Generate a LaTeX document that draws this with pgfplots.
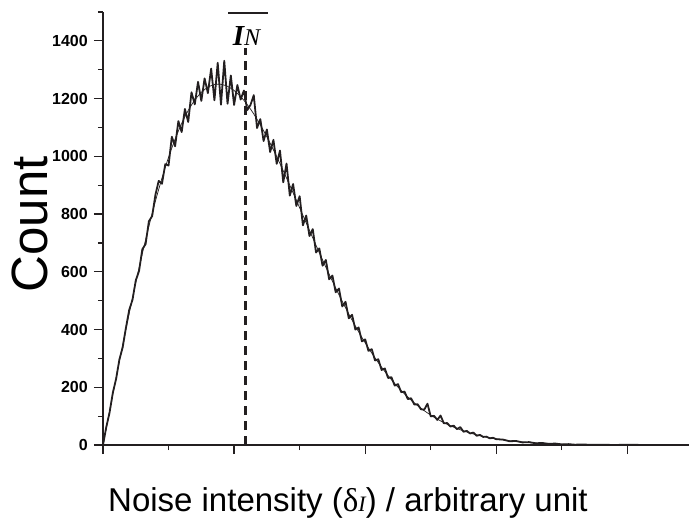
\documentclass[border=0pt]{standalone}
\usepackage{fontspec}
\setmainfont{Liberation Sans}
\newfontfamily\serif{Liberation Serif}
\usepackage{pgfplots}
\pgfplotsset{compat=1.18}
\definecolor{ink}{HTML}{231F20}
\begin{document}
\begin{tikzpicture}
\useasboundingbox (-103pt,-83pt) rectangle (586pt,445pt);
\begin{axis}[
  at={(0pt,0pt)}, anchor=south west,
  scale only axis, width=586pt, height=433pt,
  xmin=0, xmax=4.47, ymin=0, ymax=1500,
  axis x line=bottom, axis y line=left,
  axis line style={-, line width=1.3pt, ink},
  tick style={line width=1.2pt, ink},
  tick align=outside,
  major tick length=9pt, minor tick length=5pt,
  xtick={0,1,2,3,4}, minor xtick={0.5,1.5,2.5,3.5}, xticklabels={},
  ytick={0,200,...,1400}, minor ytick={100,300,500,700,900,1100,1300,1500},
  /pgf/number format/1000 sep={},
  /pgf/number format/assume math mode=true,
  yticklabel style={font=\fontsize{16}{16}\selectfont\bfseries, anchor=east, inner sep=0pt, xshift=-6pt},
  clip=false,
]
% noisy histogram
\addplot[ink, line width=1.8pt, line join=round] coordinates {
(0.000,0) (0.025,62) (0.050,112) (0.075,181) (0.100,229) (0.125,296) (0.150,338) (0.175,406)
(0.200,468) (0.225,503) (0.250,570) (0.275,603) (0.300,678) (0.325,696) (0.350,775) (0.375,793)
(0.400,867) (0.425,915) (0.450,905) (0.475,973) (0.500,968) (0.525,1068) (0.550,1035) (0.575,1122)
(0.600,1084) (0.625,1164) (0.650,1119) (0.675,1222) (0.700,1180) (0.725,1258) (0.750,1192) (0.775,1270)
(0.800,1219) (0.825,1304) (0.850,1194) (0.875,1324) (0.900,1179) (0.925,1331) (0.950,1182) (0.975,1280)
(1.000,1178) (1.025,1247) (1.050,1197) (1.075,1228) (1.100,1160) (1.125,1178) (1.150,1212) (1.175,1098)
(1.200,1129) (1.225,1053) (1.250,1093) (1.275,1015) (1.300,1057) (1.325,974) (1.350,1020) (1.375,910)
(1.400,975) (1.425,864) (1.450,904) (1.475,828) (1.500,862) (1.525,761) (1.550,795) (1.575,724)
(1.600,748) (1.625,667) (1.650,681) (1.675,621) (1.700,641) (1.725,574) (1.750,587) (1.775,529)
(1.800,542) (1.825,480) (1.850,496) (1.875,439) (1.900,451) (1.925,400) (1.950,407) (1.975,359)
(2.000,366) (2.025,326) (2.050,332) (2.075,293) (2.100,297) (2.125,260) (2.150,265) (2.175,232)
(2.200,235) (2.225,206) (2.250,211) (2.275,183) (2.300,185) (2.325,159) (2.350,162) (2.375,140)
(2.400,141) (2.425,124) (2.450,122) (2.475,143) (2.500,99) (2.525,101) (2.550,87) (2.575,102)
(2.600,75) (2.625,76) (2.650,64) (2.675,67) (2.700,55) (2.725,62) (2.750,46) (2.775,49)
(2.800,40) (2.825,43) (2.850,32) (2.875,35) (2.900,28) (2.925,29) (2.950,23) (2.975,25)
(3.00,20) (3.05,19) (3.10,13) (3.15,14) (3.20,9) (3.25,10) (3.30,6) (3.35,7)
(3.40,4) (3.45,5) (3.50,2) (3.55,3) (3.60,1) (3.65,2) (3.70,1) (3.80,1) (3.90,0) (4.00,1) (4.13,0)
};
% smooth fit
\addplot[ink, line width=0.7pt, smooth] coordinates {
(0,0) (0.05,116.9) (0.10,232.7) (0.15,346.2) (0.20,456.5) (0.25,562.3) (0.30,662.9) (0.35,757.4)
(0.40,844.9) (0.45,924.7) (0.50,996.5) (0.55,1059.6) (0.60,1113.8) (0.65,1158.9) (0.70,1194.8)
(0.75,1221.6) (0.80,1239.4) (0.85,1248.5) (0.90,1249.4) (0.95,1242.4) (1.00,1228.0) (1.05,1206.8)
(1.10,1179.5) (1.15,1146.7) (1.20,1109.1) (1.25,1067.5) (1.30,1022.4) (1.35,974.7) (1.40,924.9)
(1.45,873.8) (1.50,821.7) (1.55,769.6) (1.60,717.5) (1.65,666.3) (1.70,616.0) (1.75,567.4)
(1.80,520.4) (1.85,475.5) (1.90,432.6) (1.95,392.1) (2.00,353.9) (2.05,318.4) (2.10,285.3)
(2.15,254.6) (2.20,226.4) (2.25,200.5) (2.30,177.1) (2.35,155.7) (2.40,136.4) (2.45,119.0)
(2.50,103.5) (2.55,89.7) (2.60,77.5) (2.65,66.7) (2.70,57.2) (2.75,48.8) (2.80,41.5) (2.85,35.2)
(2.90,29.7) (2.95,25.1) (3.00,21.0) (3.10,14.7) (3.20,10.1) (3.30,6.8) (3.40,4.6) (3.50,3.0)
(3.60,2.0) (3.70,1.3) (3.80,0.8) (3.90,0.5) (4.00,0.3) (4.13,0.1)
};
% mean line
\addplot[ink, line width=3pt, dash pattern=on 9pt off 6pt] coordinates {(1.089,0) (1.089,1376)};
\node[anchor=base, inner sep=0pt] at (axis cs:1.095,1383)
  {{\serif\fontsize{29}{29}\selectfont\bfseries\itshape I}{\serif\fontsize{24}{24}\selectfont\itshape N}};
\fill[ink] (axis cs:0.956,1493) rectangle (axis cs:1.262,1499);
\node[anchor=base, inner sep=0pt, font=\fontsize{33}{33}\selectfont] at (axis description cs:0.418,-0.1547)
  {Noise intensity ({\serif δ}{\serif\fontsize{22}{22}\selectfont\itshape I}) / arbitrary unit};
\node[anchor=base, rotate=90, inner sep=0pt, font=\fontsize{51}{51}\selectfont] at (axis description cs:-0.0955,0.51) {Count};
\end{axis}
\end{tikzpicture}
\end{document}
